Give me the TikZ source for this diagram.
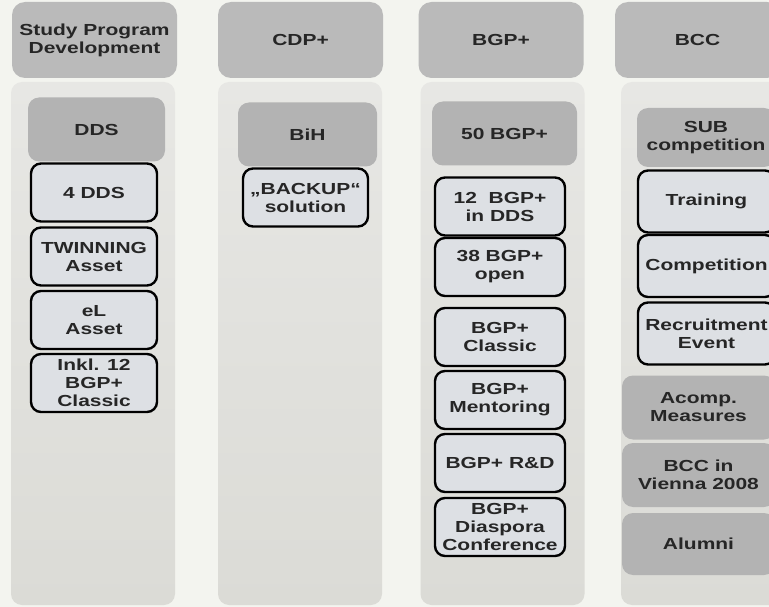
\documentclass[tikz,border=0pt]{standalone}
\usepackage{fontspec}
\setmainfont[FakeStretch=1.31]{Liberation Sans}
\definecolor{pagebg}{HTML}{F3F4EF}
\definecolor{coltop}{HTML}{E7E7E4}
\definecolor{colbot}{HTML}{DBDBD6}
\definecolor{headgray}{HTML}{BABABA}
\definecolor{subgray}{HTML}{B3B3B3}
\definecolor{itemfill}{HTML}{DDE0E4}
\tikzset{
  boxtext/.style={align=center, font=\bfseries\fontsize{16}{18}\selectfont, inner sep=0pt, text=black!85},
  head/.style={boxtext, fill=headgray, rounded corners=13pt, minimum width=165pt, minimum height=76pt},
  colbg/.style={rounded corners=11pt, minimum width=164pt, minimum height=523pt, top color=coltop, bottom color=colbot},
  subhead/.style={boxtext, fill=subgray, rounded corners=11pt, minimum height=64pt},
  item/.style={boxtext, draw=black, line width=2.4pt, fill=itemfill, rounded corners=10pt, minimum height=58pt}
}
\begin{document}
\begin{tikzpicture}[x=1pt, y=-1pt]
  \useasboundingbox (0,0) rectangle (769,607);
  \clip (0,0) rectangle (769,607);
  \fill[pagebg] (0,0) rectangle (769,607);

  \node[head] (h1) at (94.5,40) {Study Program\\Development};
  \node[head] (h2) at (300.5,40) {CDP+};
  \node[head] (h3) at (501,40) {BGP+};
  \node[head] (h4) at (697.5,40) {BCC};

  \node[colbg] (c1) at (93,343.5) {};
  \node[colbg] (c2) at (300,343.5) {};
  \node[colbg] (c3) at (502.5,343.5) {};
  \node[colbg] (c4) at (703,343.5) {};

  \node[subhead, minimum width=137pt] (dds) at (96.5,129.5) {DDS};
  \node[item, minimum width=126pt] (dds4) at (94,192.5) {4 DDS};
  \node[item, minimum width=126pt] (twin) at (94,256.5) {TWINNING\\Asset};
  \node[item, minimum width=126pt] (el) at (94,320) {eL\\Asset};
  \node[item, minimum width=126pt] (inkl) at (94,383) {Inkl. 12\\BGP+\\Classic};

  \node[subhead, minimum width=139pt] (bih) at (307.5,134.5) {BiH};
  \node[item, minimum width=125pt] (backup) at (305.5,197.5) {„BACKUP“\\solution};

  \node[subhead, minimum width=145pt] (bgp50) at (504.5,133.5) {50 BGP+};
  \node[item, minimum width=130pt] (bgpdds) at (500,206.5) {12~~BGP+\\in DDS};
  \node[item, minimum width=130pt] (bgpopen) at (500,267) {38 BGP+\\open};
  \node[item, minimum width=130pt] (bgpclassic) at (500,337) {BGP+\\Classic};
  \node[item, minimum width=130pt] (bgpment) at (500,400) {BGP+\\Mentoring};
  \node[item, minimum width=130pt] (bgprd) at (500,463) {BGP+ R\&D};
  \node[item, minimum width=130pt] (bgpdia) at (500,527) {BGP+\\Diaspora\\Conference};

  \node[subhead, minimum width=138pt, minimum height=59pt] (sub) at (706,137.5) {SUB\\competition};
  \node[item, minimum width=137pt, minimum height=62pt] (train) at (706.5,201.5) {Training};
  \node[item, minimum width=137pt, minimum height=62pt] (comp) at (706.5,266) {Competition};
  \node[item, minimum width=137pt, minimum height=62pt] (recr) at (706.5,333.5) {Recruitment\\Event};
  \node[subhead, minimum width=153pt] (acomp) at (698.5,407.5) {Acomp.\\Measures};
  \node[subhead, minimum width=153pt] (vienna) at (698.5,475) {BCC in\\Vienna 2008};
  \node[subhead, minimum width=153pt, minimum height=62pt] (alumni) at (698.5,544) {Alumni};
\end{tikzpicture}
\end{document}
